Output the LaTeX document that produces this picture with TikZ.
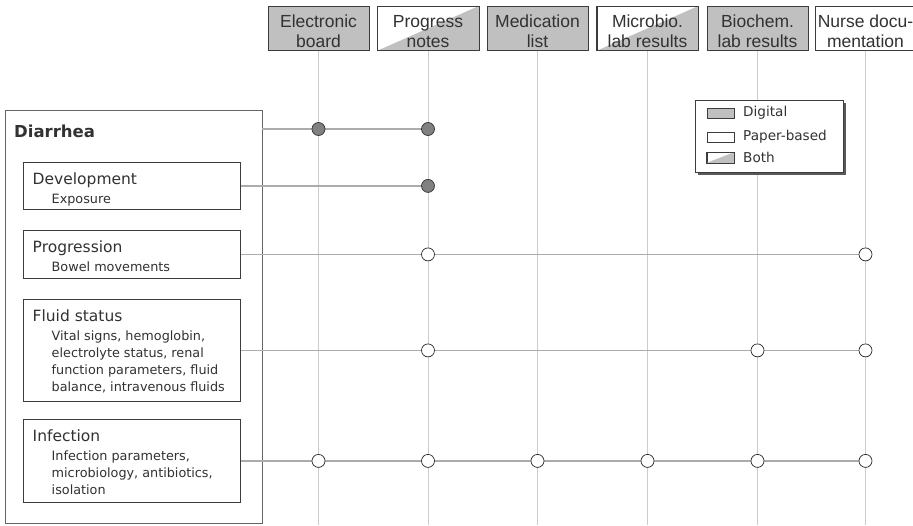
\documentclass[tikz,border=0pt]{standalone}
\usepackage{fontspec}
\setmainfont{DejaVu Sans}
\newfontfamily\hdrfont{Liberation Sans}
\usetikzlibrary{shadows}
\definecolor{fillgray}{RGB}{192,192,192}
\definecolor{dotgray}{RGB}{128,128,128}
\definecolor{vlinegray}{RGB}{204,204,204}
\definecolor{hlinegray}{RGB}{172,172,172}
\definecolor{bordergray}{RGB}{60,60,60}
\definecolor{outergray}{RGB}{100,100,100}
\definecolor{txtgray}{RGB}{50,50,50}
\tikzset{
  hdrbox/.style={draw=bordergray, line width=0.8pt, minimum width=101pt, minimum height=44pt, inner sep=0pt, anchor=north},
  digital/.style={fill=fillgray},
  paper/.style={fill=white},
  hdrtxt/.style={font=\hdrfont\fontsize{17.5}{20.5}\selectfont, anchor=base, inner sep=0pt, text=txtgray},
  vline/.style={draw=vlinegray, line width=0.9pt},
  hline/.style={draw=hlinegray, line width=1.3pt},
  topicbox/.style={draw=bordergray, line width=0.8pt, fill=white, anchor=north west, inner sep=0pt, minimum width=217pt},
  ttl/.style={font=\fontsize{15.5}{18}\selectfont, anchor=base west, inner sep=0pt, text=txtgray},
  sub/.style={font=\fontsize{12.8}{17}\selectfont, anchor=base west, inner sep=0pt, align=left, text=txtgray},
  dotd/.style={circle, draw=black!80, line width=0.7pt, fill=dotgray, minimum size=13pt, inner sep=0pt},
  dotp/.style={circle, draw=black!85, line width=0.7pt, fill=white, minimum size=13pt, inner sep=0pt},
  swatch/.style={draw=bordergray, line width=0.7pt, minimum width=27pt, minimum height=10pt, inner sep=0pt},
  legtxt/.style={font=\fontsize{13.6}{16}\selectfont, anchor=west, inner sep=0pt, text=txtgray}
}
\begin{document}
\begin{tikzpicture}[x=1pt,y=-1pt]
\useasboundingbox (0,0) rectangle (913,525);

% header boxes
\node[hdrbox, digital] (h1) at (318.5,6) {};
\node[hdrbox, paper]   (h2) at (428,6) {};
\fill[fillgray] (h2.south west) -- (h2.south east) -- (h2.north east) -- cycle;
\draw[bordergray, line width=0.8pt] (h2.south west) rectangle (h2.north east);
\node[hdrbox, digital] (h3) at (537.5,6) {};
\node[hdrbox, paper]   (h4) at (647.5,6) {};
\fill[fillgray] (h4.south west) -- (h4.south east) -- (h4.north east) -- cycle;
\draw[bordergray, line width=0.8pt] (h4.south west) rectangle (h4.north east);
\node[hdrbox, digital] (h5) at (757.5,6) {};
\node[hdrbox, paper]   (h6) at (865.5,6) {};

\node[hdrtxt] (t1a) at (318.5,27) {Electronic};
\node[hdrtxt] (t1b) at (318.5,47.5) {board};
\node[hdrtxt] (t2a) at (428,27) {Progress};
\node[hdrtxt] (t2b) at (428,47.5) {notes};
\node[hdrtxt] (t3a) at (537.5,27) {Medication};
\node[hdrtxt] (t3b) at (537.5,47.5) {list};
\node[hdrtxt] (t4a) at (647.5,27) {Microbio.};
\node[hdrtxt] (t4b) at (647.5,47.5) {lab results};
\node[hdrtxt] (t5a) at (757.5,27) {Biochem.};
\node[hdrtxt] (t5b) at (757.5,47.5) {lab results};
\node[hdrtxt] (t6a) at (865.5,27) {Nurse docu-};
\node[hdrtxt] (t6b) at (865.5,47.5) {mentation};

% vertical lines
\foreach \i in {1,...,6} {
  \draw[vline] (h\i.south) -- (h\i.south |- 0,525);
}

% legend
\node[draw=bordergray, line width=0.8pt, fill=white, minimum width=148pt, minimum height=72pt, anchor=north west, inner sep=0pt,
      drop shadow={shadow xshift=3pt, shadow yshift=-3pt, opacity=1, fill=black!65}] (leg) at (695,100) {};
\node[swatch, fill=fillgray] (s1) at (720.5,113) {};
\node[swatch, fill=white] (s2) at (720.5,137) {};
\node[swatch, fill=white] (s3) at (720.5,157.5) {};
\fill[fillgray] (s3.south west) -- (s3.south east) -- (s3.north east) -- cycle;
\draw[bordergray, line width=0.7pt] (s3.south west) rectangle (s3.north east);
\node[legtxt] (l1) at (743,113) {Digital};
\node[legtxt] (l2) at (743,136.5) {Paper-based};
\node[legtxt] (l3) at (743,157.5) {Both};

% topic boxes
\node[draw=outergray, line width=1.1pt, fill=white, anchor=north west, inner sep=0pt, minimum width=257pt, minimum height=413pt] (diar) at (5,110) {};
\node[font=\bfseries\fontsize{16.5}{19}\selectfont, anchor=base west, inner sep=0pt, text=txtgray] (diart) at (14,137) {Diarrhea};

\node[topicbox, minimum height=47pt] (dev) at (23,162) {};
\node[ttl] (devt) at (32.5,184) {Development};
\node[sub] (devs) at (51.5,203) {Exposure};

\node[topicbox, minimum height=48pt] (prog) at (23,230) {};
\node[ttl] (progt) at (32.5,252) {Progression};
\node[sub] (progs) at (51.5,271) {Bowel movements};

\node[topicbox, minimum height=102pt] (fluid) at (23,299) {};
\node[ttl] (fluidt) at (32.5,321) {Fluid status};
% base anchor of a multi-line node = baseline of its last line
\node[sub] (fluids) at (51.5,391) {Vital signs, hemoglobin,\\electrolyte status, renal\\function parameters, fluid\\balance, intravenous fluids};

\node[topicbox, minimum height=83pt] (inf) at (23,419) {};
\node[ttl] (inft) at (32.5,441) {Infection};
\node[sub] (infs) at (51.5,494) {Infection parameters,\\microbiology, antibiotics,\\isolation};

% connectors
\coordinate (r1) at (262,129);
\draw[hline] (r1) -- (h2.south |- r1);
\draw[hline] (dev.east) -- (h2.south |- dev.east);
\draw[hline] (prog.east) -- (h6.south |- prog.east);
\draw[hline] (fluid.east) -- (h6.south |- fluid.east);
\draw[hline] (inf.east) -- (h6.south |- inf.east);

% dots
\node[dotd] (d11) at (h1.south |- r1) {};
\node[dotd] (d12) at (h2.south |- r1) {};
\node[dotd] (d22) at (h2.south |- dev.east) {};
\node[dotp] (d32) at (h2.south |- prog.east) {};
\node[dotp] (d36) at (h6.south |- prog.east) {};
\node[dotp] (d42) at (h2.south |- fluid.east) {};
\node[dotp] (d45) at (h5.south |- fluid.east) {};
\node[dotp] (d46) at (h6.south |- fluid.east) {};
\foreach \i in {1,...,6} {
  \node[dotp] (d5\i) at (h\i.south |- inf.east) {};
}
\end{tikzpicture}
\end{document}
